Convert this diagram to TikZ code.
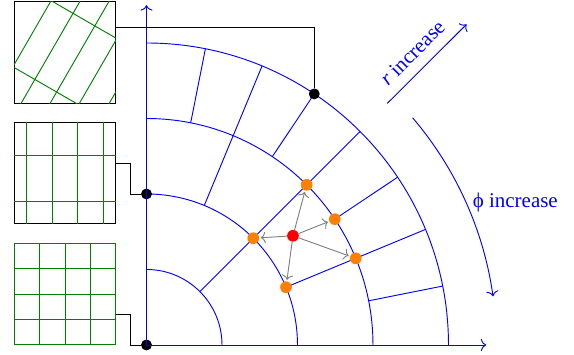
\documentclass[tikz,border=0pt]{standalone}
\usepackage{fontspec}
\setmainfont{Liberation Serif}
\usepackage{xcolor}
\usetikzlibrary{arrows.meta,positioning}
\definecolor{mblue}{HTML}{0000FF}
\definecolor{mgreen}{HTML}{008000}
\definecolor{morange}{HTML}{FF8000}
\definecolor{mred}{HTML}{FF0000}
\definecolor{mgray}{HTML}{808080}
\tikzset{
  % Axes, arcs and spokes of the polar mesh.
  wire/.style    = {mblue, line width=0.7pt},
  dirarr/.style  = {wire, -{To[length=1.4mm,width=3.2mm]}},
  gridline/.style = {mgreen, line width=0.7pt},
  patch/.style   = {draw=black, fill=white, line width=0.7pt, minimum size=2.7cm,
                    inner sep=0pt, outer sep=0pt},
  link/.style    = {black, line width=0.7pt},
  pt/.style      = {circle, fill=black, inner sep=0pt, minimum size=2.9mm},
  vtx/.style     = {circle, fill=morange, inner sep=0pt, minimum size=3.1mm},
  ctr/.style     = {circle, fill=mred, inner sep=0pt, minimum size=3.1mm},
  nbr/.style     = {-{To[length=1.3mm,width=3mm]}, mgray, line width=0.7pt, shorten >=1pt},
  lbl/.style     = {text=mblue, font=\fontsize{15.8}{18}\selectfont},
}
\begin{document}
\begin{tikzpicture}
\useasboundingbox (-3.881,-0.265) rectangle (11.325,9.139);
% mesh
\coordinate (xtip) at (9,0);
\coordinate (ytip) at (0,9);
\foreach \r in {2,4,6,8} \draw[wire] (\r,0) arc (0:90:\r);
\draw[wire] (45:2) -- (45:8);
\foreach \a in {22.5,67.5} \draw[wire] (\a:4) -- (\a:8);
\foreach \a in {11.25,33.75,56.25,78.75} \draw[wire] (\a:6) -- (\a:8);
\node[pt] (dotlow) at (0,0) {};
\node[pt] (dotmid) at (0,4) {};
\node[pt] (dottop) at (56.25:8) {};
\draw[dirarr] (dotlow.center) -- (xtip);
\draw[dirarr] (dotlow.center) -- (ytip);
% stencil
\node[vtx] (va) at (45:6) {};
\node[vtx] (vb) at (45:4) {};
\node[vtx] (vc) at (22.5:4) {};
\node[vtx] (vd) at (22.5:6) {};
\node[vtx] (ve) at (33.75:6) {};
\node[ctr] (cc) at (36.7:4.84) {};
\foreach \v in {va,vb,vc,vd,ve} \draw[nbr] (cc) -- (\v);
% patches
\node[patch] (topbox) at (-2.159,7.748) {};
\node[patch] (midbox) at (-2.159,4.556) {};
\node[patch] (lowbox) at (-2.159,1.351) {};
\begin{scope}[shift={(topbox.south west)}]
  \clip (0,0) rectangle (2.7,2.7);
  \foreach \x in {-0.59,0.185,0.954,1.73,2.52} \draw[gridline] (\x,0) ++(60:-1) -- ++(60:5);
  \foreach \y in {0.954,3.29} \draw[gridline] (0,\y) -- ++(-30:5);
\end{scope}
\begin{scope}[shift={(midbox.south west)}]
  \foreach \x in {0.336,1.011,1.686,2.361} \draw[gridline] (\x,0) -- (\x,2.7);
  \foreach \y in {0.6,1.82} \draw[gridline] (0,\y) -- (2.7,\y);
\end{scope}
\begin{scope}[shift={(lowbox.south west)}]
  \foreach \k in {0,...,4} {
    \draw[gridline] (0.675*\k,0) -- (0.675*\k,2.7);
    \draw[gridline] (0,0.675*\k) -- (2.7,0.675*\k);
  }
\end{scope}
\draw[link] ([yshift=6.75mm]topbox.east) -| (dottop);
\draw[link] ([yshift=2.45mm]midbox.east) -- ++(0.39,0) |- (dotmid);
\draw[link] ([yshift=-5.55mm]lowbox.east) -- ++(0.39,0) |- (dotlow);
% directions
\coordinate (rstart) at (6.378,6.4);
\coordinate (rend) at (8.48,8.495);
\draw[dirarr] (rstart) -- (rend);
\node[lbl, rotate=45] (rlabel) at (7.04,7.74) {\textit{r} increase};
\draw[dirarr] (40.5:9.27) arc (40.5:8:9.27);
\node[lbl] (philabel) at (9.77,3.78) {ϕ increase};
\end{tikzpicture}
\end{document}
